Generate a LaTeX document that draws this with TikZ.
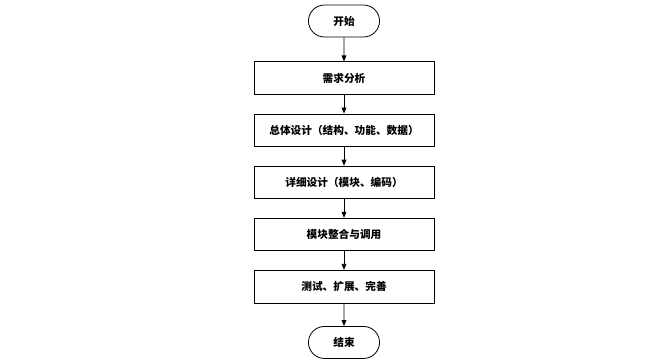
\documentclass[tikz,border=0pt]{standalone}
\usepackage{fontspec}
\setmainfont{Noto Sans CJK SC}
\usetikzlibrary{arrows.meta, positioning, shapes.misc}
\tikzset{
  stepbox/.style={
    rectangle, draw, line width=0.6pt,
    minimum width=135pt, minimum height=24.5pt,
    text centered, font=\fontsize{8}{10}\selectfont\bfseries
  },
  termbox/.style={
    rounded rectangle, draw, line width=0.6pt,
    minimum width=60pt, minimum height=24pt,
    text centered, font=\fontsize{8}{10}\selectfont\bfseries
  },
  arrow/.style={-{Triangle[length=4.5pt, width=3.6pt]}, line width=0.6pt},
}
\begin{document}
\begin{tikzpicture}[node distance=14pt]
  \useasboundingbox (0,0) rectangle (493.5pt,-272.25pt);
  \node[termbox] (start) at (258pt,-15.75pt) {开始};
  \node[stepbox, below=18pt of start] (req) {需求分析};
  \node[stepbox, below=of req] (overall) {总体设计（结构、功能、数据）};
  \node[stepbox, below=of overall] (detail) {详细设计（模块、编码）};
  \node[stepbox, below=of detail] (merge) {模块整合与调用};
  \node[stepbox, below=of merge] (test) {测试、扩展、完善};
  \node[termbox, below=17pt of test] (end) {结束};

  \draw[arrow] (start) -- (req);
  \draw[arrow] (req) -- (overall);
  \draw[arrow] (overall) -- (detail);
  \draw[arrow] (detail) -- (merge);
  \draw[arrow] (merge) -- (test);
  \draw[arrow] (test) -- (end);
\end{tikzpicture}
\end{document}
